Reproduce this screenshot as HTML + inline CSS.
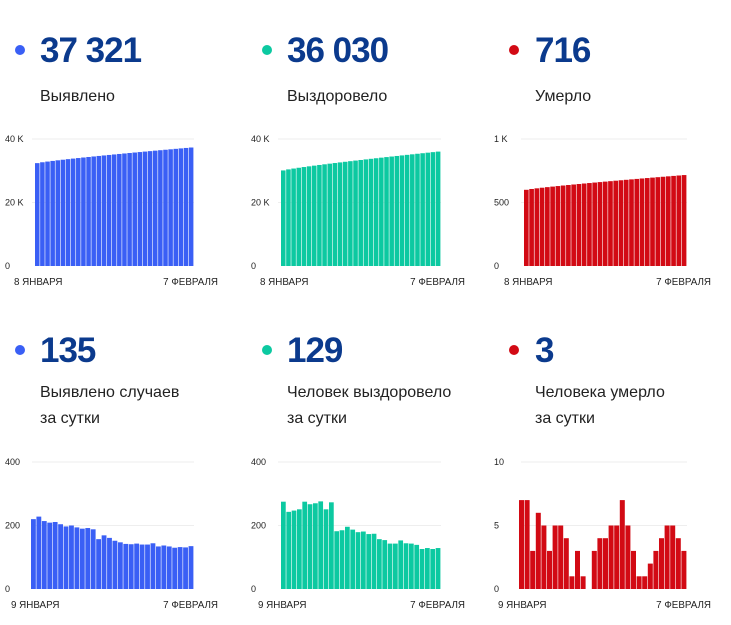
<!DOCTYPE html>
<html><head><meta charset="utf-8"><style>
body{margin:0;width:731px;height:625px;background:#fff;font-family:"Liberation Sans",Arial,sans-serif;position:relative;overflow:hidden}
.n{position:absolute;font-size:35px;font-weight:bold;color:#0b3a8d;letter-spacing:-1px}
.l{position:absolute;font-size:16px;color:#222;line-height:26px}
.d{position:absolute;width:10px;height:10px;border-radius:50%}
svg{position:absolute;left:0;top:0}
</style></head><body>
<div class="d" style="left:15px;top:45px;background:#3a5ff5"></div>
<div class="d" style="left:262px;top:45px;background:#0cc9a1"></div>
<div class="d" style="left:509px;top:45px;background:#d20a14"></div>
<div class="n" style="left:40px;top:31px">37 321</div>
<div class="n" style="left:287px;top:31px">36 030</div>
<div class="n" style="left:535px;top:31px">716</div>
<div class="l" style="left:40px;top:84px">Выявлено</div>
<div class="l" style="left:287px;top:84px">Выздоровело</div>
<div class="l" style="left:535px;top:84px">Умерло</div>
<div class="d" style="left:15px;top:345px;background:#3a5ff5"></div>
<div class="d" style="left:262px;top:345px;background:#0cc9a1"></div>
<div class="d" style="left:509px;top:345px;background:#d20a14"></div>
<div class="n" style="left:40px;top:331px">135</div>
<div class="n" style="left:287px;top:331px">129</div>
<div class="n" style="left:535px;top:331px">3</div>
<div class="l" style="left:40px;top:380px">Выявлено случаев<br>за сутки</div>
<div class="l" style="left:287px;top:380px">Человек выздоровело<br>за сутки</div>
<div class="l" style="left:535px;top:380px">Человека умерло<br>за сутки</div>
<svg id="s" width="731" height="625" font-family="Liberation Sans, Arial, sans-serif" font-size="9" fill="#222"></svg>
<script>
var s=document.getElementById('s'),h='';
function chart(x0,x1,base,top,max,vals,col,ticks,d1,lx,dx,ex){
  var mid=(base+top)/2;
  h+='<line x1="'+lx+'" x2="'+x1+'" y1="'+top+'" y2="'+top+'" stroke="#eee"/>';
  h+='<line x1="'+lx+'" x2="'+x1+'" y1="'+mid+'" y2="'+mid+'" stroke="#eee"/>';
  h+='<text x="'+(lx-27)+'" y="'+(top+3)+'">'+ticks[0]+'</text>';
  h+='<text x="'+(lx-27)+'" y="'+(mid+3)+'">'+ticks[1]+'</text>';
  h+='<text x="'+(lx-27)+'" y="'+(base+3)+'">0</text>';
  var n=vals.length,w=(x1-x0)/n;
  for(var i=0;i<n;i++){var y=base-(base-top)*vals[i]/max;
    h+='<rect x="'+(x0+i*w).toFixed(2)+'" y="'+y.toFixed(2)+'" width="'+(w-0.6).toFixed(2)+'" height="'+(base-y).toFixed(2)+'" fill="'+col+'"/>';}
  h+='<text x="'+dx+'" y="'+(base+19)+'" font-size="9.8">'+d1+'</text>';
  h+='<text x="'+ex+'" y="'+(base+19)+'" font-size="9.8" text-anchor="end">7 ФЕВРАЛЯ</text>';
}
function lin(a,b,n){var r=[];for(var i=0;i<n;i++)r.push(a+(b-a)*Math.pow(i/(n-1),0.85));return r;}
chart(35,194,266,139,40000,lin(32400,37321,31),'#3a5ff5',['40 K','20 K'],'8 ЯНВАРЯ',32,14,218);
chart(281,441,266,139,40000,lin(30100,36030,31),'#0cc9a1',['40 K','20 K'],'8 ЯНВАРЯ',278,260,465);
chart(524,687,266,139,1000,lin(600,716,31),'#d20a14',['1 K','500'],'8 ЯНВАРЯ',521,504,711);
chart(31,194,589,462,400,[220,228,214,209,211,204,197,200,194,190,192,188,157,169,161,152,147,142,141,143,140,140,144,134,137,134,130,132,131,135],'#3a5ff5',['400','200'],'9 ЯНВАРЯ',32,11,218);
chart(281,441,589,462,400,[275,243,247,251,275,267,270,276,251,273,182,185,196,187,179,181,173,174,157,154,143,143,153,144,143,139,126,129,126,129],'#0cc9a1',['400','200'],'9 ЯНВАРЯ',278,258,465);
chart(519,687,589,462,10,[7,7,3,6,5,3,5,5,4,1,3,1,0,3,4,4,5,5,7,5,3,1,1,2,3,4,5,5,4,3],'#d20a14',['10','5'],'9 ЯНВАРЯ',521,498,711);
s.innerHTML=h;
</script>
</body></html>
